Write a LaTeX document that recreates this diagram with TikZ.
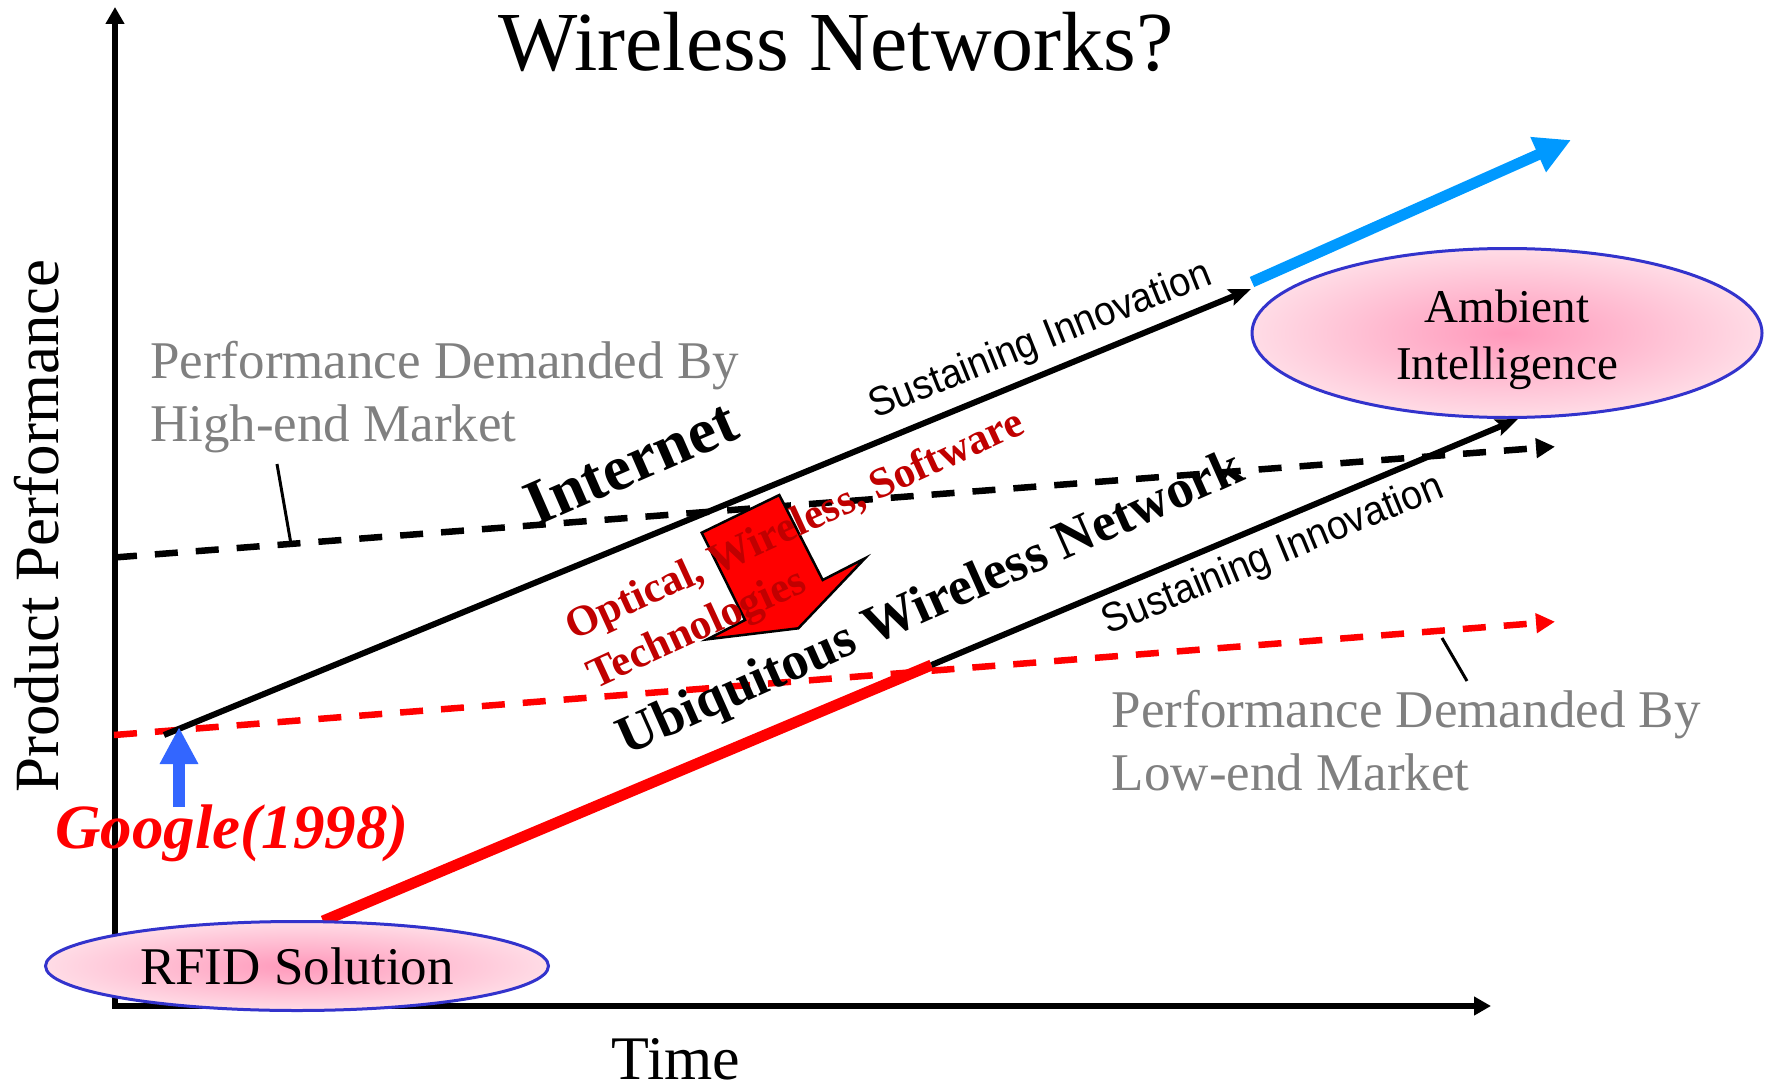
\documentclass[tikz,border=0pt]{standalone}
\usepackage{fontspec}
\setmainfont{Liberation Serif}
\newfontfamily\plainsans[FakeStretch=0.93]{Liberation Sans}
\usetikzlibrary{arrows.meta,shapes.geometric}

\definecolor{labelgray}{HTML}{808080}
\definecolor{techred}{HTML}{C00000}
\definecolor{brightred}{HTML}{FF0000}
\definecolor{googleblue}{HTML}{3366FF}
\definecolor{skyblue}{HTML}{0099FF}
\definecolor{rimblue}{HTML}{3333CC}
\definecolor{pinkcore}{HTML}{FF99BB}
\definecolor{pinkedge}{HTML}{FFDCE6}

\begin{document}
\begin{tikzpicture}[x=1pt,y=-1pt,
  axistip/.tip={Triangle[length=17pt,width=18pt]},
  axisline/.style={line width=6pt,line join=miter,axistip-axistip},
  demand/.style={line width=6.5pt,dash pattern=on 23pt off 18pt,
    -{Triangle[length=19pt,width=19pt]}},
  leader/.style={line width=3pt},
  trend/.style={line width=6pt,-{Stealth[length=22pt,width=17pt,inset=4pt]}},
  market/.style={ellipse,draw=rimblue,line width=3pt,inner color=pinkcore,
    outer color=pinkedge,inner sep=0pt,align=center},
  graylabel/.style={text=labelgray,font=\fontsize{53}{63}\selectfont,
    anchor=base west,inner sep=0pt},
  sustain/.style={font=\plainsans\fontsize{41}{48}\selectfont,anchor=base,inner sep=0pt},
  slanted/.style={font=\bfseries\fontsize{#1}{#1}\selectfont,anchor=base,inner sep=0pt}
]
\useasboundingbox (0,0) rectangle (1766,1086);

% axes
\coordinate (O) at (115,1006);
\coordinate (ytop) at (115,7);
\coordinate (xend) at (1491,1006);
\draw[axisline] (ytop) -- (O) -- (xend);

% performance demanded by the two markets
\coordinate (hiS) at (114,557.5);
\coordinate (hiE) at (1555,446.7);
\coordinate (loS) at (114,735);
\coordinate (loE) at (1555,621.7);
\draw[demand] (hiS) -- (hiE);
\draw[demand,brightred] (loS) -- (loE);

\coordinate (hiLeadTop) at (277,464);
\coordinate (hiLeadBot) at (291,544);
\coordinate (loLeadTop) at (1442,638);
\coordinate (loLeadBot) at (1467,681);
\draw[leader] (hiLeadTop) -- (hiLeadBot);
\draw[leader] (loLeadTop) -- (loLeadBot);

% sustaining innovation trajectories
\coordinate (inetS) at (164,735);
\coordinate (inetE) at (1251,289);
\draw[trend] (inetS) -- (inetE);
\coordinate (skyS) at (1252,282);
\coordinate (skyE) at (1571,140);
\draw[skyblue,line width=11pt,-{Triangle[length=36pt,width=36pt]}] (skyS) -- (skyE);

\coordinate (rfidS) at (323,921);
\coordinate (ubiqM) at (931.5,665);
\coordinate (ubiqE) at (1518,419);
\draw[brightred,line width=11pt] (rfidS) -- (ubiqM);
\draw[trend] (ubiqM) -- (ubiqE);

% market ellipses
\node[market,minimum width=510pt,minimum height=169pt,
  font=\fontsize{47}{57}\selectfont] (ambient) at (1507,333)
  {\rule{0pt}{46pt}Ambient\\Intelligence};
\node[market,minimum width=503pt,minimum height=89pt,
  font=\fontsize{53}{63}\selectfont] (rfid) at (297,966) {RFID Solution};

% block arrow from the technologies down to the wireless network
\filldraw[fill=brightred,draw=black,line width=2.5pt,line join=miter]
  (701.7,532.7) -- (779.3,495) -- (822.7,580) -- (865,558.3)
  -- (798.3,628.3) -- (707.3,639.3) -- (745,620) -- cycle;

% Google marker
\coordinate (gS) at (179,807);
\coordinate (gE) at (179,727);
\draw[googleblue,line width=12pt,-{Triangle[length=37pt,width=36pt]}] (gS) -- (gE);
\node[text=brightred,font=\bfseries\itshape\fontsize{63}{70}\selectfont,inner sep=0pt]
  (google) at (232,833) {Google(1998)};

% titles and axis labels
\node[font=\fontsize{84}{100}\selectfont,anchor=base,inner sep=0pt] (title)
  at (836,71) {Wireless Networks?};
\node[font=\fontsize{63}{70}\selectfont,anchor=base,rotate=90,inner sep=0pt]
  (ylabel) at (58,526) {Product Performance};
\node[font=\fontsize{62}{70}\selectfont,anchor=base,inner sep=0pt] (xlabel)
  at (676,1079) {Time};

% market labels
\node[graylabel] (hilabel) at (150,378)
  {\begin{tabular}[t]{@{}l@{}}Performance Demanded By\\High-end Market\end{tabular}};
\node[graylabel] (lolabel) at (1111.7,727)
  {\begin{tabular}[t]{@{}l@{}}Performance Demanded By\\Low-end Market\end{tabular}};

% slanted labels along the trajectories
\node[sustain,rotate=21.8] (sust1) at (1044.5,351) {Sustaining Innovation};
\node[sustain,rotate=22.4] (sust2) at (1277.5,565.5) {Sustaining Innovation};
\node[slanted=64,rotate=23.6] (inet) at (639,482) {Internet};
\node[slanted=54,rotate=24] (ubiq) at (937,617) {Ubiquitous Wireless Network};
\node[font=\bfseries\fontsize{43}{53}\selectfont,text=techred,anchor=base west,
  inner sep=0pt,rotate=24.7] (tech) at (573,641)
  {\begin{tabular}[t]{@{}l@{}}Optical, Wireless, Software\\Technologies\end{tabular}};
\end{tikzpicture}
\end{document}
